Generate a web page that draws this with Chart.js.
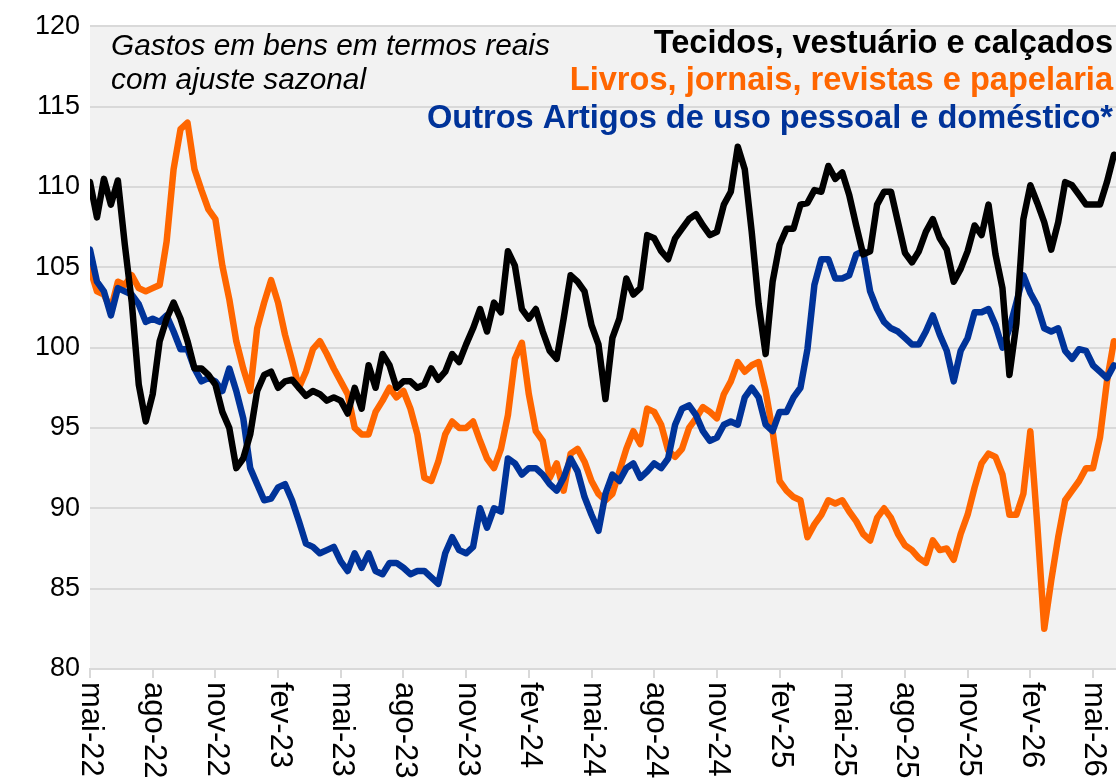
<!DOCTYPE html>
<html>
<head>
<meta charset="utf-8">
<script src="https://cdn.jsdelivr.net/npm/chart.js@4.4.1/dist/chart.umd.min.js"></script>
<style>
  html, body { margin: 0; padding: 0; background: #ffffff; }
  #chart { display: block; }
</style>
</head>
<body>
<canvas id="chart" width="1116" height="780"></canvas>
<script>
// Gastos em bens em termos reais, com ajuste sazonal
// 3 samples per month, starting at mai-22
var samplesPerMonth = 3;

var tickLabels = ['mai-22', 'ago-22', 'nov-22', 'fev-23', 'mai-23', 'ago-23', 'nov-23', 'fev-24', 'mai-24',
  'ago-24', 'nov-24', 'fev-25', 'mai-25', 'ago-25', 'nov-25', 'fev-26', 'mai-26'];

var seriesNames = ['Tecidos, vestuário e calçados', 'Livros, jornais, revistas e papelaria',
  'Outros Artigos de uso pessoal e doméstico*'];

var tecidos = [
  110.3, 108.1, 110.5, 108.9, 110.4, 106.4, 102.8, 97.7, 95.4, 97.1,
  100.4, 101.8, 102.8, 101.8, 100.4, 98.7, 98.7, 98.3, 97.7, 96.0,
  95.0, 92.5, 93.1, 94.6, 97.3, 98.3, 98.5, 97.5, 97.9, 98.0,
  97.5, 97.0, 97.3, 97.1, 96.7, 96.9, 96.7, 95.9, 97.5, 96.2,
  98.9, 97.5, 99.6, 98.9, 97.5, 97.9, 97.9, 97.5, 97.7, 98.7,
  98.0, 98.5, 99.6, 99.1, 100.2, 101.2, 102.4, 101.0, 102.8, 102.2,
  106.0, 105.1, 102.4, 101.8, 102.4, 101.0, 99.8, 99.3, 101.8, 104.5,
  104.1, 103.5, 101.4, 100.2, 96.8, 100.6, 101.8, 104.3, 103.3, 103.7,
  107.0, 106.8, 106.0, 105.5, 106.8, 107.4, 108.0, 108.3, 107.6, 107.0,
  107.2, 108.9, 109.7, 112.5, 111.1, 107.2, 102.7, 99.6, 104.1, 106.4,
  107.4, 107.4, 108.9, 109.0, 109.8, 109.7, 111.3, 110.5, 110.9, 109.5,
  107.6, 105.8, 106.0, 108.9, 109.7, 109.7, 107.8, 105.9, 105.3, 106.0,
  107.2, 108.0, 106.8, 106.1, 104.1, 104.9, 106.0, 107.6, 107.0, 108.9,
  105.8, 103.7, 98.3, 101.5, 108.0, 110.1, 109.0, 107.8, 106.1, 107.8,
  110.3, 110.1, 109.5, 108.9, 108.9, 108.9, 110.3, 112.0
];

var livros = [
  104.9, 103.5, 103.3, 102.4, 104.1, 103.9, 104.5, 103.7, 103.5, 103.7,
  103.9, 106.6, 111.1, 113.6, 114.0, 111.1, 109.8, 108.6, 108.0, 105.1,
  103.0, 100.4, 98.7, 97.3, 101.2, 102.8, 104.2, 102.8, 100.8, 99.2,
  97.5, 98.5, 99.9, 100.4, 99.6, 98.7, 97.9, 97.1, 95.0, 94.6,
  94.6, 96.0, 96.7, 97.5, 96.9, 97.3, 96.2, 94.6, 91.9, 91.7,
  92.9, 94.6, 95.4, 95.0, 95.0, 95.4, 94.2, 93.1, 92.5, 93.7,
  95.8, 99.3, 100.3, 97.1, 94.8, 94.2, 91.9, 92.8, 91.1, 93.4,
  93.7, 92.9, 91.7, 90.9, 90.5, 90.9, 92.3, 93.7, 94.8, 94.0,
  96.2, 96.0, 95.2, 93.6, 93.2, 93.7, 95.0, 95.6, 96.3, 96.0,
  95.6, 97.1, 97.9, 99.1, 98.5, 98.9, 99.1, 97.3, 94.8, 91.7,
  91.1, 90.7, 90.5, 88.2, 89.0, 89.6, 90.5, 90.3, 90.5, 89.8,
  89.2, 88.4, 88.0, 89.4, 90.0, 89.4, 88.4, 87.7, 87.4, 86.9,
  86.6, 88.0, 87.4, 87.5, 86.8, 88.4, 89.6, 91.3, 92.8, 93.4,
  93.2, 92.1, 89.6, 89.6, 90.9, 94.8, 89.0, 82.5, 85.5, 88.2,
  90.5, 91.1, 91.7, 92.5, 92.5, 94.4, 97.9, 100.4
];

var outros = [
  106.1, 104.1, 103.5, 102.0, 103.7, 103.5, 103.3, 102.7, 101.6, 101.8,
  101.6, 102.0, 101.0, 99.9, 99.9, 98.7, 97.9, 98.1, 97.9, 97.3,
  98.7, 97.3, 95.6, 92.5, 91.5, 90.5, 90.6, 91.3, 91.5, 90.5,
  89.2, 87.8, 87.6, 87.2, 87.4, 87.6, 86.7, 86.1, 87.2, 86.3,
  87.2, 86.1, 85.9, 86.6, 86.6, 86.3, 85.9, 86.1, 86.1, 85.7,
  85.3, 87.2, 88.2, 87.4, 87.2, 87.6, 90.0, 88.8, 90.0, 89.8,
  93.1, 92.8, 92.1, 92.5, 92.5, 92.1, 91.5, 91.1, 91.9, 93.1,
  92.3, 90.7, 89.6, 88.6, 90.9, 92.1, 91.7, 92.5, 92.8, 91.9,
  92.3, 92.8, 92.5, 93.1, 95.2, 96.2, 96.4, 95.8, 94.8, 94.2,
  94.4, 95.2, 95.4, 95.2, 96.9, 97.5, 96.9, 95.2, 94.8, 96.0,
  96.0, 96.9, 97.5, 99.9, 103.9, 105.5, 105.5, 104.3, 104.3, 104.5,
  105.8, 106.0, 103.5, 102.4, 101.6, 101.2, 101.0, 100.6, 100.2, 100.2,
  101.0, 102.0, 100.8, 99.8, 97.9, 99.8, 100.6, 102.2, 102.2, 102.4,
  101.4, 100.0, 101.2, 102.8, 104.5, 103.4, 102.6, 101.2, 101.0, 101.2,
  99.8, 99.3, 99.9, 99.8, 98.9, 98.5, 98.1, 98.9
];

var colors = ['#000000', '#ff6600', '#003399'];
var fontFamily = '"Liberation Sans", Arial, sans-serif';

function toPoints(values) {
  return values.map(function (v, i) { return { x: i / samplesPerMonth, y: v }; });
}

// grey plot area
var plotBackground = {
  id: 'plotBackground',
  beforeDraw: function (chart) {
    var a = chart.chartArea;
    var ctx = chart.ctx;
    ctx.save();
    ctx.fillStyle = '#f2f2f2';
    ctx.fillRect(a.left, a.top, a.right - a.left, a.bottom - a.top);
    ctx.restore();
  }
};

// month labels read top-to-bottom, plus the titles in the corners
var annotations = {
  id: 'annotations',
  afterDraw: function (chart) {
    var ctx = chart.ctx;
    var xs = chart.scales.x;
    ctx.save();
    ctx.fillStyle = '#000000';
    ctx.font = '31px ' + fontFamily;
    ctx.textAlign = 'left';
    ctx.textBaseline = 'middle';
    xs.ticks.forEach(function (t) {
      var px = xs.getPixelForValue(t.value);
      ctx.save();
      ctx.translate(px + 1, xs.top + 13);
      ctx.rotate(Math.PI / 2);
      ctx.fillText(tickLabels[Math.round(t.value / 3)], 0, 0);
      ctx.restore();
    });

    ctx.textBaseline = 'alphabetic';
    ctx.font = 'italic 29.8px ' + fontFamily;
    ctx.fillText('Gastos em bens em termos reais', 111, 55);
    ctx.fillText('com ajuste sazonal', 111, 89);

    ctx.textAlign = 'right';
    ctx.font = 'bold 32.6px ' + fontFamily;
    var baselines = [53, 90, 128];
    seriesNames.forEach(function (name, k) {
      ctx.fillStyle = colors[k];
      ctx.fillText(name, 1113, baselines[k]);
    });
    ctx.restore();
  }
};

var ctx = document.getElementById('chart').getContext('2d');
var chart = new Chart(ctx, {
  type: 'line',
  data: {
    datasets: [
      { label: seriesNames[0], data: toPoints(tecidos), borderColor: colors[0] },
      { label: seriesNames[2], data: toPoints(outros), borderColor: colors[2] },
      { label: seriesNames[1], data: toPoints(livros), borderColor: colors[1] }
    ]
  },
  options: {
    responsive: false,
    animation: false,
    layout: { padding: { top: 23, left: 0, right: 0, bottom: 0 } },
    elements: {
      line: { borderWidth: 6.5, tension: 0, borderJoinStyle: 'round', borderCapStyle: 'round', fill: false },
      point: { radius: 0 }
    },
    plugins: {
      legend: { display: false },
      tooltip: { enabled: false }
    },
    scales: {
      x: {
        type: 'linear',
        min: 0,
        max: 49.1,
        afterBuildTicks: function (scale) {
          scale.ticks = tickLabels.map(function (l, k) { return { value: k * 3 }; });
        },
        afterFit: function (scale) { scale.height = 111; },
        ticks: {
          autoSkip: false,
          minRotation: 0,
          maxRotation: 0,
          color: 'transparent',
          font: { size: 1 },
          callback: function (v) { return tickLabels[Math.round(v / 3)]; }
        },
        grid: { drawOnChartArea: false, drawTicks: true, tickLength: 9, color: '#d9d9d9', lineWidth: 2 },
        border: { display: true, color: '#d9d9d9', width: 2 }
      },
      y: {
        min: 80,
        max: 120,
        afterFit: function (scale) { scale.width = 90; },
        ticks: {
          stepSize: 5,
          color: '#000000',
          padding: 10,
          font: { family: fontFamily, size: 27 }
        },
        grid: { color: '#d9d9d9', lineWidth: 2, drawTicks: false },
        border: { display: false }
      }
    }
  },
  plugins: [plotBackground, annotations]
});
</script>
</body>
</html>
